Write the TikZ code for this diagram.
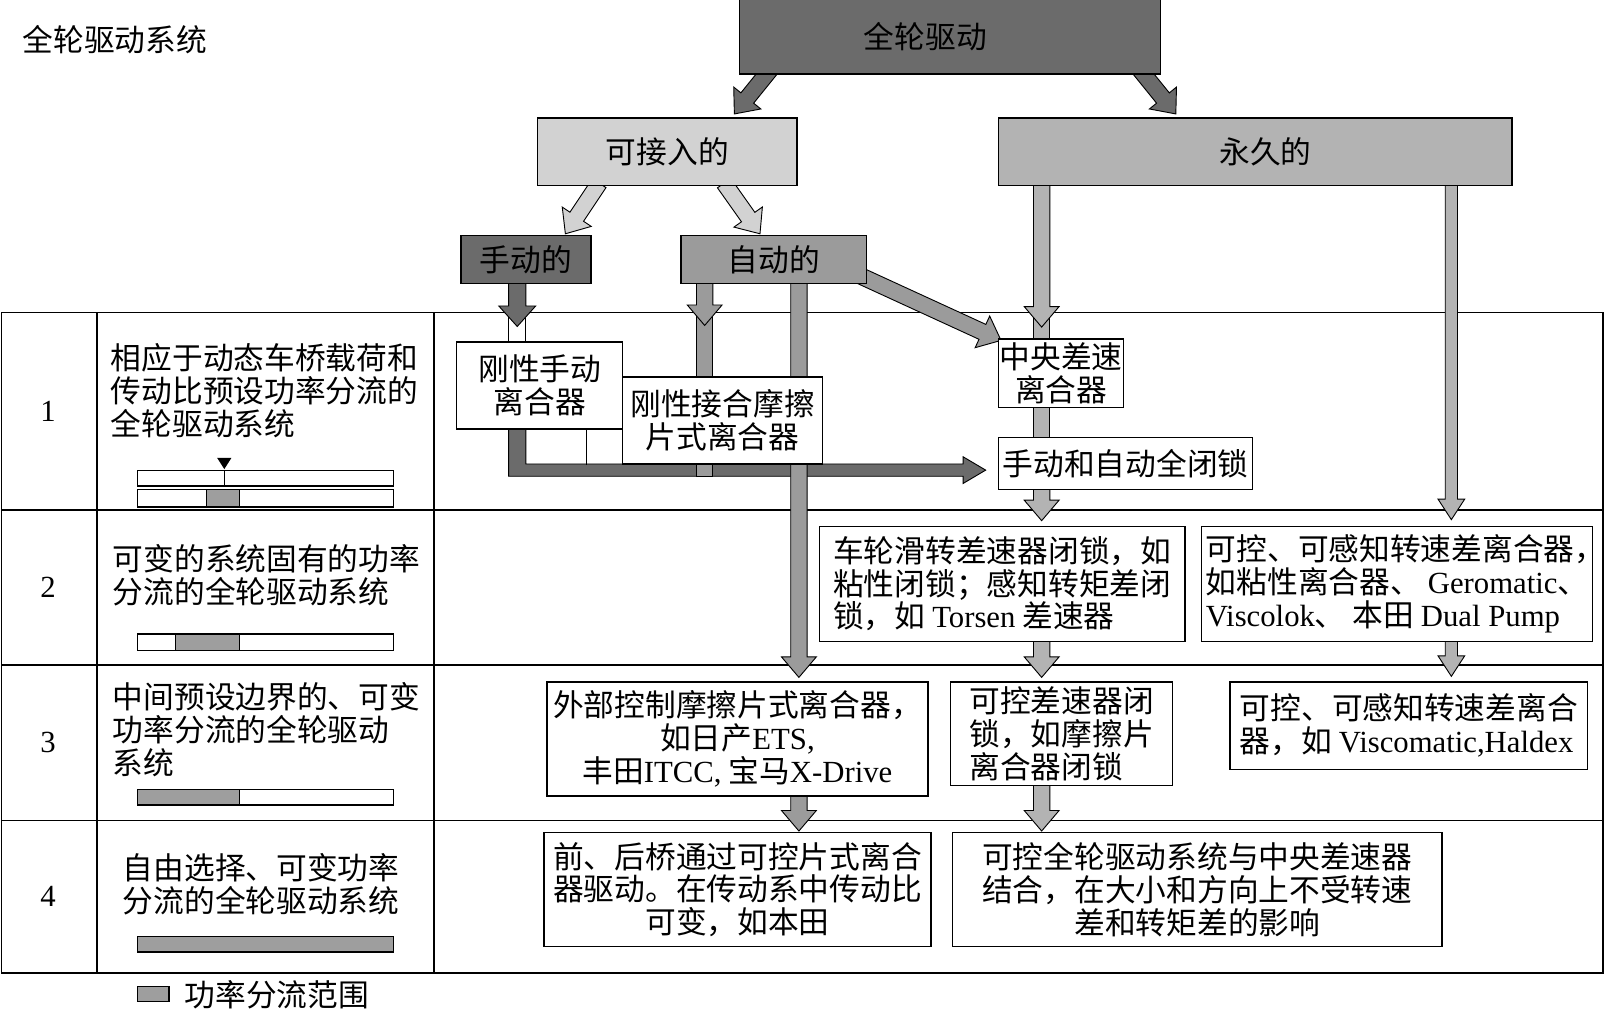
\documentclass[tikz,border=0pt]{standalone}
\usepackage{fontspec}
\setmainfont{Noto Sans CJK SC}
\newfontfamily\lat{Liberation Serif}
\usetikzlibrary{calc,backgrounds}
\definecolor{shadeD}{HTML}{6B6B6B}
\definecolor{shadeA}{HTML}{9B9B9B}
\definecolor{shadeP}{HTML}{B3B3B3}
\definecolor{shadeL}{HTML}{D2D2D2}
\definecolor{shadeR}{HTML}{9E9E9E}
\newcommand\bodysize{\fontsize{30pt}{32pt}\selectfont}
\tikzset{
  graybox/.style={draw=black,line width=1.5pt,inner sep=0pt,align=center},
  cellbox/.style={draw=black,fill=white,line width=1.3pt,inner sep=0pt,align=center},
  rowtext/.style={inner sep=0pt,align=left},
  rownum/.style={inner sep=0pt,font=\bodysize\lat},
  gridline/.style={line width=1.5pt},
  fatline/.style={draw=black,line width=0.9pt,line join=miter},
  rangebar/.style={draw=black,line width=1.1pt}
}
% block arrow: [shaft half width]{fill}{start}{tip}
\newcommand\fatarrow[4][8]{%
  \pgfmathsetmacro\fahw{2*#1+1}%
  \coordinate (fa-s) at (#3);
  \coordinate (fa-t) at (#4);
  \coordinate (fa-b) at ($(fa-t)!20pt!(fa-s)$);
  \filldraw[fatline,fill=#2]
    ($(fa-s)!#1pt!90:(fa-t)$) -- ($(fa-b)!#1pt!-90:(fa-s)$) --
    ($(fa-b)!\fahw pt!-90:(fa-s)$) -- (fa-t) --
    ($(fa-b)!\fahw pt!90:(fa-s)$) -- ($(fa-b)!#1pt!90:(fa-s)$) --
    ($(fa-s)!#1pt!-90:(fa-t)$) -- cycle;
}
% block bar without head
\newcommand\fatbar[4][8]{%
  \coordinate (fa-s) at (#3);
  \coordinate (fa-t) at (#4);
  \filldraw[fatline,fill=#2]
    ($(fa-s)!#1pt!90:(fa-t)$) -- ($(fa-t)!#1pt!-90:(fa-s)$) --
    ($(fa-t)!#1pt!90:(fa-s)$) -- ($(fa-s)!#1pt!-90:(fa-t)$) -- cycle;
}

\begin{document}
\begin{tikzpicture}[x=1pt,y=-1pt,font=\bodysize]
  \useasboundingbox (0,0) rectangle (1568,987);
  \node[anchor=west,inner sep=0pt] (title) at (22,39) {全轮驱动系统};

  % tree of drive types
  \node[graybox,fill=shadeD,minimum width=411,minimum height=73] (awd) at (927.5,35.5) {全轮驱动\hspace*{48pt}};
  \node[graybox,fill=shadeL,minimum width=253,minimum height=66] (plug) at (651.5,148) {可接入的};
  \node[graybox,fill=shadeP,minimum width=501,minimum height=66] (perm) at (1225.5,148) {\hspace*{20pt}永久的};
  \node[graybox,fill=shadeD,minimum width=127,minimum height=47] (man) at (513.5,253.5) {手动的};
  \node[graybox,fill=shadeA,minimum width=181,minimum height=47] (auto) at (755.5,253.5) {自动的};

  % row 1
  \node[cellbox,minimum width=162,minimum height=85] (rm) at (527,376.5) {刚性手动\\离合器};
  \node[cellbox,minimum width=195,minimum height=85] (rf) at (705.5,410.5) {刚性接合摩擦\\片式离合器};
  \node[cellbox,minimum width=122,minimum height=67] (cd) at (1036,364.5) {中央差速\\离合器};
  \node[cellbox,minimum width=248,minimum height=51] (lock) at (1099,452.5) {手动和自动全闭锁};
  % row 2
  \node[cellbox,align=left,minimum width=357,minimum height=112] (slip) at (978.5,570)
    {车轮滑转差速器闭锁，如\\粘性闭锁；感知转矩差闭\\锁，如 {\lat Torsen} 差速器};
  \node[cellbox,align=left,minimum width=382,minimum height=112] (sense) at (1364,570)
    {可控、可感知转速差离合器\rlap{，}\\如粘性离合器、 {\lat Geromatic}、\\{\lat Viscolok}、 本田 {\lat Dual Pump}};
  % row 3
  \node[cellbox,minimum width=372,minimum height=111] (ext) at (720,721.5)
    {外部控制摩擦片式离合器，\\如日产{\lat ETS,}\\丰田{\lat ITCC,} 宝马{\lat X-Drive}};
  \node[cellbox,align=left,minimum width=217,minimum height=101] (cdl) at (1036.5,716.5)
    {可控差速器闭\\锁，如摩擦片\\离合器闭锁};
  \node[cellbox,align=left,minimum width=349,minimum height=85] (visc) at (1375.5,708.5)
    {可控、可感知转速差离合\\器，如 {\lat Viscomatic,Haldex}};
  % row 4
  \node[cellbox,minimum width=378,minimum height=111] (axle) at (720,868.5)
    {前、后桥通过可控片式离合\\器驱动。在传动系中传动比\\可变，如本田};
  \node[cellbox,minimum width=478,minimum height=111] (ctrl) at (1169,868.5)
    {可控全轮驱动系统与中央差速器\\结合，在大小和方向上不受转速\\差和转矩差的影响};

  % left columns
  \node[rownum] (n1) at (47,401.5) {1};
  \node[rownum] (n2) at (47,573.5) {2};
  \node[rownum] (n3) at (47,725) {3};
  \node[rownum] (n4) at (47,875.5) {4};
  \node[rowtext,anchor=west] (d1) at (108,381.5) {相应于动态车桥载荷和\\传动比预设功率分流的\\全轮驱动系统};
  \node[rowtext,anchor=west] (d2) at (110,561.5) {可变的系统固有的功率\\分流的全轮驱动系统};
  \node[rowtext,anchor=west] (d3) at (110,712.5) {中间预设边界的、可变\\功率分流的全轮驱动\\系统};
  \node[rowtext,align=center] (d4) at (255,863.5) {自由选择、可变功率\\分流的全轮驱动系统};

  % power split ranges
  \draw[rangebar] (134.5,459) rectangle (384,474.5);
  \draw[rangebar] (219,459) -- (219,474.5);
  \fill (212,447) -- (226,447) -- (219,458) -- cycle;
  \draw[rangebar] (134.5,478) rectangle (384,495);
  \draw[rangebar,fill=shadeR] (202,478) rectangle (234,495);
  \draw[rangebar] (134.5,619) rectangle (384,635);
  \draw[rangebar,fill=shadeR] (171.5,619) rectangle (234,635);
  \draw[rangebar] (234,771) rectangle (384,786);
  \draw[rangebar,fill=shadeR] (134.5,771) rectangle (234,786);
  \draw[rangebar,fill=shadeR] (134.5,914) rectangle (384,929.5);
  % legend
  \draw[rangebar,fill=shadeR] (134,963) rectangle (165,978);
  \node[anchor=west,inner sep=0pt] (key) at (180,971.5) {功率分流范围};

  \begin{pgfonlayer}{background}
    % table
    \draw[gridline] (1.5,305) rectangle (1565,950);
    \draw[gridline] (94.5,305) -- (94.5,950);
    \draw[gridline] (423.5,305) -- (423.5,950);
    \draw[gridline] (1.5,498) -- (1565,498);
    \draw[gridline] (1.5,649) -- (1565,649);
    \draw[gridline] (1.5,801) -- (1565,801);

    % columns of the connectors
    \coordinate (pl) at ([xshift=-208.5pt]perm.south);
    \coordinate (pr) at ([xshift=191.5pt]perm.south);
    \coordinate (al) at ([xshift=-67.5pt]auto.south);
    \coordinate (ar) at ([xshift=24.5pt]auto.south);
    \coordinate (ml) at ([xshift=-8.5pt]man.south);
    \coordinate (lt) at ($(lock.west)+(-12,6.5)$);

    % upper tree
    \fatarrow{shadeD}{$(awd.south)+(-174.5,-6)$}{$(plug.north)+(65.5,-3)$}
    \fatarrow{shadeD}{$(awd.south)+(184.5,-6)$}{$(perm.north)+(-77.5,-3)$}
    \fatarrow{shadeL}{$(plug.south)+(-66.5,-3)$}{$(man.north)+(38.5,-1)$}
    \fatarrow{shadeL}{$(plug.south)+(55.5,-3)$}{$(auto.north)+(-13.5,-1)$}

    % manual branch
    \filldraw[fatline,fill=shadeD] ($(ml |- rm.south)+(-8.5,-8)$) -- ($(ml |- lt)+(-8.5,6)$)
      -- ($(lt)+(-22,6)$) -- ($(lt)+(-22,13)$) -- (lt) -- ($(lt)+(-22,-13)$)
      -- ($(lt)+(-22,-6)$) -- ($(ml |- lt)+(8.5,-6)$) -- ($(ml |- rm.south)+(8.5,-8)$) -- cycle;
    \draw[line width=1pt] ([xshift=46pt]rm.south) -- ++(0,34);
    \fatbar[8.5]{white}{$(ml)+(0,30)$}{$(ml |- rm.north)+(0,3)$}
    \fatarrow[8.5]{shadeD}{$(ml)+(0,-4)$}{$(ml)+(0,41)$}

    % automatic branch
    \fatbar{shadeA}{$(al)+(0,28)$}{$(al |- lt)+(0,6)$}
    \fatarrow{shadeA}{$(al)+(0,-4)$}{$(al)+(0,40)$}
    \fatarrow{shadeA}{$(ar)+(0,-4)$}{$(ar |- ext.north)+(0,-4)$}
    \fatarrow{shadeA}{$(ar |- ext.south)+(0,-3)$}{$(ar |- axle.north)+(0,-1)$}
    \fatarrow{shadeA}{$(auto.east)+(-15,12)$}{$(cd.north west)+(3,2)$}

    % permanent branch
    \fatbar{shadeP}{$(pl |- cd.north)+(0,-25)$}{$(pl |- cd.north)+(0,3)$}
    \fatarrow{shadeP}{$(pl)+(0,-4)$}{$(pl |- cd.north)+(0,-11)$}
    \fatbar{shadeP}{$(pl |- cd.south)+(0,-3)$}{$(pl |- lock.north)+(0,3)$}
    \fatarrow{shadeP}{$(pl |- lock.south)+(0,-3)$}{$(pl |- slip.north)+(0,-5)$}
    \fatarrow{shadeP}{$(pl |- slip.south)+(0,-3)$}{$(pl |- cdl.north)+(0,-4)$}
    \fatarrow{shadeP}{$(pl |- cdl.south)+(0,-3)$}{$(pl |- ctrl.north)+(0,-1)$}
    \fatarrow[6]{shadeP}{$(pr)+(0,-4)$}{$(pr |- sense.north)+(0,-6)$}
    \fatarrow[6]{shadeP}{$(pr |- sense.south)+(0,-3)$}{$(pr |- visc.north)+(0,-5)$}
  \end{pgfonlayer}
\end{tikzpicture}
\end{document}
